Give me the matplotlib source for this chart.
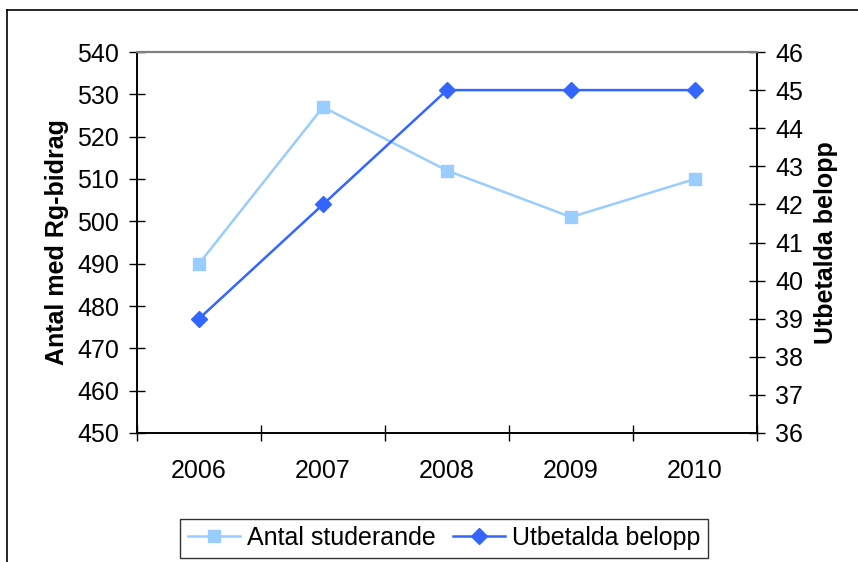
import matplotlib.pyplot as plt
from matplotlib.lines import Line2D

plt.rcParams['font.family'] = ['Liberation Sans', 'DejaVu Sans']

years = ["2006", "2007", "2008", "2009", "2010"]
antal_studerande = [490, 527, 512, 501, 510]
utbetalda_belopp = [39, 42, 45, 45, 45]

light = "#99CCFF"
dark = "#3366FF"

fig = plt.figure(figsize=(8.58, 5.62), dpi=100)
ax = fig.add_axes([137 / 858, 1 - 433 / 562, 620 / 858, 381 / 562])
ax2 = ax.twinx()

x = list(range(len(years)))
l1, = ax.plot(x, antal_studerande, color=light, lw=1.8, marker="s", ms=8,
              mec=light, mfc=light, label="Antal studerande")
l2, = ax2.plot(x, utbetalda_belopp, color=dark, lw=1.8, marker="D", ms=8,
               mec=dark, mfc=dark, label="Utbetalda belopp")

ax.set_xlim(-0.5, len(years) - 0.5)
ax.set_ylim(450, 540)
ax.set_yticks(range(450, 541, 10))
ax2.set_ylim(36, 46)
ax2.set_yticks(range(36, 47))

ax.set_xticks(x)
ax.set_xticklabels(years)
ax.set_xticks([i - 0.5 for i in range(len(years) + 1)], minor=True)
ax.tick_params(axis="x", which="major", length=0, pad=19, labelsize=18)
ax.tick_params(axis="x", which="minor", direction="inout", length=12, width=1)
ax.tick_params(axis="y", direction="inout", length=12, width=1, pad=7, labelsize=18)
ax2.tick_params(axis="y", direction="inout", length=12, width=1, pad=7, labelsize=18)

for a in (ax, ax2):
    a.spines["top"].set_color("#808080")
    a.spines["top"].set_linewidth(1.5)
    for s in ("left", "right", "bottom"):
        a.spines[s].set_color("black")
        a.spines[s].set_linewidth(1.2)

ax.set_ylabel("Antal med Rg-bidrag", fontsize=18, fontweight="bold", labelpad=6)
ax2.set_ylabel("Utbetalda belopp", fontsize=18, fontweight="bold", labelpad=8)

leg = fig.legend(handles=[l1, l2], loc="center", bbox_to_anchor=(444 / 858, 1 - 538 / 562),
                 ncol=2, fontsize=18, frameon=True, fancybox=False, handlelength=2.1,
                 handletextpad=0.25, columnspacing=0.7, borderpad=0.3)
leg.get_frame().set_edgecolor("black")
leg.get_frame().set_linewidth(1)

# outer chart border (only top and left are visible in the crop)
fig.add_artist(Line2D([7 / 858, 7 / 858], [0, 1 - 10 / 562], color="black", lw=1.2,
                      transform=fig.transFigure))
fig.add_artist(Line2D([7 / 858, 1], [1 - 10 / 562, 1 - 10 / 562], color="black", lw=1.2,
                      transform=fig.transFigure))

fig.savefig("out.png", dpi=100)
